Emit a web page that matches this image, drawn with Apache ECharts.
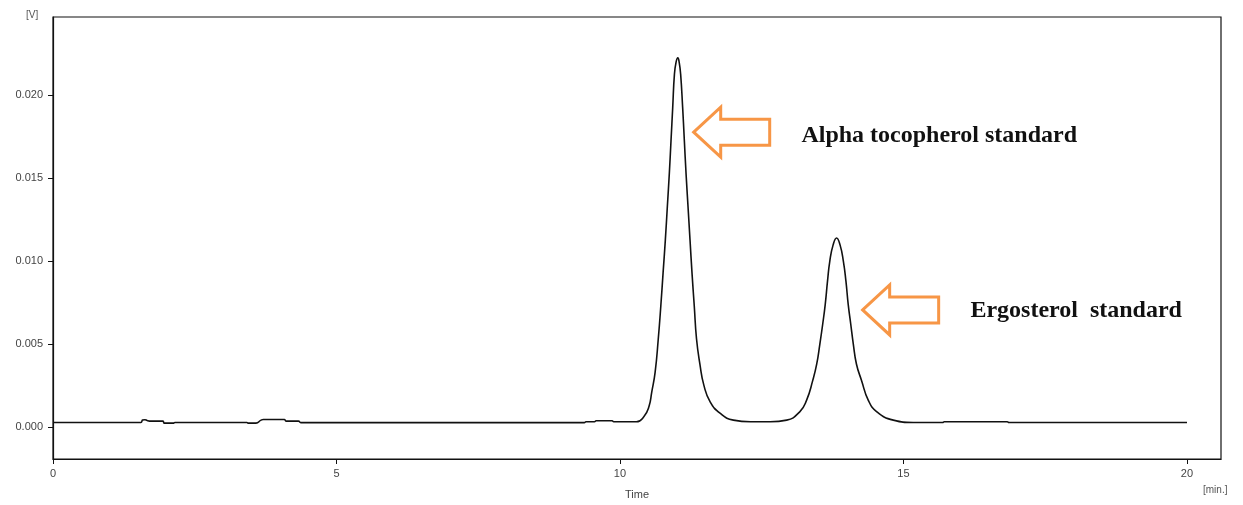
<!DOCTYPE html>
<html>
<head>
<meta charset="utf-8">
<script src="https://cdn.jsdelivr.net/npm/echarts@6/dist/echarts.min.js"></script>
<style>
  html, body { margin: 0; padding: 0; background: #fff; }
  #chart { width: 1243px; height: 505px; }
</style>
</head>
<body>
<div id="chart"></div>
<script>
// Retention time [min.]
const timeMin = [
  0.00, 1.55, 1.58, 1.62, 1.66, 1.70, 1.94, 1.96, 2.12, 2.15, 3.42, 3.44, 3.58, 3.67, 3.71, 4.08, 4.11, 4.33, 4.37,
  9.37, 9.40, 9.55, 9.58, 9.86, 9.89, 10.29,
  10.42, 10.51, 10.56, 10.62, 10.675, 10.72, 10.76, 10.80, 10.835, 10.87, 10.90, 10.93, 10.96, 10.99, 11.02, 11.045,
  11.07, 11.105, 11.135, 11.165, 11.20, 11.235, 11.27, 11.31, 11.35, 11.41, 11.48, 11.59, 11.77, 12.00, 12.30, 12.65,
  12.94, 13.17, 13.29, 13.40, 13.47, 13.525, 13.575, 13.62, 13.66, 13.70, 13.76, 13.82, 13.88, 13.94, 13.985,
  14.025, 14.07, 14.115, 14.17, 14.26, 14.38, 14.53, 14.82, 15.17, 15.69, 15.72, 16.83, 16.86, 20.00
];

// Detector signal [V]
const signalV = [
  0.00030, 0.00030, 0.00044, 0.00046, 0.00042, 0.00038, 0.00038, 0.00026, 0.00026, 0.00030, 0.00030, 0.00026, 0.00026, 0.00044, 0.00048, 0.00048, 0.00038, 0.00038, 0.00029,
  0.00029, 0.00034, 0.00034, 0.00040, 0.00040, 0.00034, 0.00034,
  0.00064, 0.00124, 0.00213, 0.00333, 0.00532, 0.00731, 0.00930, 0.01129, 0.01328, 0.01528, 0.01727, 0.01926, 0.02125, 0.02200, 0.02225, 0.02195,
  0.02125, 0.01926, 0.01727, 0.01528, 0.01328, 0.01129, 0.00930, 0.00731, 0.00532, 0.00380, 0.00253, 0.00154, 0.00084, 0.00044, 0.00034, 0.00034,
  0.00044, 0.00094, 0.00163, 0.00283, 0.00382, 0.00502, 0.00621, 0.00741, 0.00880, 0.01000, 0.01100, 0.01140, 0.01100, 0.01000, 0.00880,
  0.00741, 0.00621, 0.00502, 0.00382, 0.00283, 0.00163, 0.00094, 0.00044, 0.00030, 0.00030, 0.00034, 0.00034, 0.00030, 0.00030
];

const xTicks = [0, 5, 10, 15, 20];
const yTicks = [0, 0.005, 0.010, 0.015, 0.020];

const peakLabels = ['Alpha tocopherol standard', 'Ergosterol  standard'];

// Arrow tips and label anchors, in [min., V]
const annotations = [
  { tip: [11.30, 0.01777], label: [13.20, 0.01757], text: peakLabels[0] },
  { tip: [14.28, 0.00707], label: [16.18, 0.00701], text: peakLabels[1] }
];

const seriesData = timeMin.map((t, i) => [t, signalV[i]]);

const chart = echarts.init(document.getElementById('chart'), null, { renderer: 'canvas' });

const axisFont = { fontFamily: 'Liberation Sans, Arial, sans-serif', fontSize: 11, color: '#444' };

chart.setOption({
  animation: false,
  backgroundColor: '#fff',
  grid: {
    left: 53, right: 22, top: 17, bottom: 44,
    show: true, borderColor: '#111', borderWidth: 1.2, backgroundColor: 'transparent'
  },
  xAxis: {
    type: 'value',
    min: 0, max: 20.6,
    axisLine: { show: true, onZero: false, lineStyle: { color: '#111', width: 1.2 } },
    axisTick: { show: true, length: 5, customValues: xTicks, lineStyle: { color: '#111', width: 1 } },
    axisLabel: Object.assign({ customValues: xTicks, margin: 9 }, axisFont),
    splitLine: { show: false },
    name: 'Time',
    nameLocation: 'middle',
    nameGap: 30,
    nameTextStyle: { fontFamily: 'Liberation Sans, Arial, sans-serif', fontSize: 11, color: '#444' }
  },
  yAxis: {
    type: 'value',
    min: -0.0019, max: 0.0247,
    axisLine: { show: true, onZero: false, lineStyle: { color: '#111', width: 1.2 } },
    axisTick: { show: true, length: 5, customValues: yTicks, lineStyle: { color: '#111', width: 1 } },
    axisLabel: Object.assign({
      customValues: yTicks, margin: 10,
      formatter: v => v.toFixed(3)
    }, axisFont),
    splitLine: { show: false }
  },
  series: [{
    type: 'line',
    data: seriesData,
    showSymbol: false,
    smooth: 0.5,
    lineStyle: { color: '#111', width: 1.6 },
    z: 3
  }]
});

// Unit captions, then an outlined arrow and a label for each peak
const graphics = [
  { type: 'text', left: 26, top: 10, style: { text: '[V]', fill: '#555', font: '10px Liberation Sans, Arial, sans-serif' } },
  { type: 'text', left: 1203, top: 485, style: { text: '[min.]', fill: '#555', font: '10px Liberation Sans, Arial, sans-serif' } }
];
const arrowHead = 27, arrowHalfHead = 25, arrowHalfShaft = 13, arrowLen = 76;
annotations.forEach(a => {
  const tip = chart.convertToPixel({ gridIndex: 0 }, a.tip);
  const lab = chart.convertToPixel({ gridIndex: 0 }, a.label);
  graphics.push({
    type: 'polygon',
    x: tip[0], y: tip[1],
    shape: {
      points: [
        [0, 0], [arrowHead, -arrowHalfHead], [arrowHead, -arrowHalfShaft], [arrowLen, -arrowHalfShaft],
        [arrowLen, arrowHalfShaft], [arrowHead, arrowHalfShaft], [arrowHead, arrowHalfHead]
      ]
    },
    style: { fill: '#fff', stroke: '#F79646', lineWidth: 3, lineJoin: 'miter' },
    z: 10
  });
  graphics.push({
    type: 'text',
    x: lab[0], y: lab[1],
    style: {
      text: a.text, fill: '#111',
      font: 'bold 24px Liberation Serif, Times New Roman, serif',
      textAlign: 'left', textVerticalAlign: 'middle'
    },
    z: 10
  });
});
chart.setOption({ graphic: graphics });
</script>
</body>
</html>
